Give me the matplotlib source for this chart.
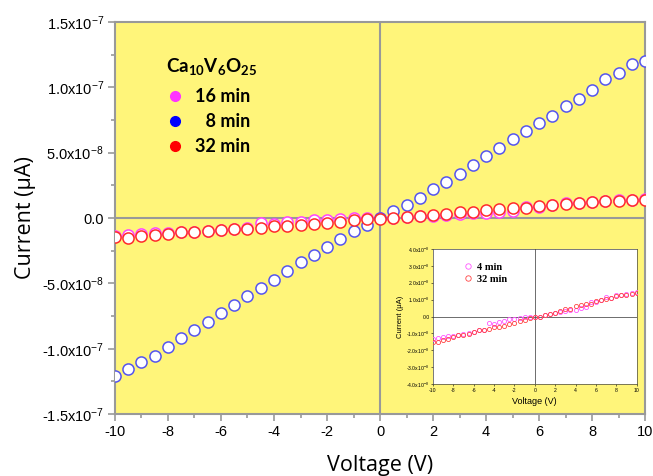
import numpy as np
import matplotlib
matplotlib.use("Agg")
import matplotlib.pyplot as plt
from matplotlib.lines import Line2D
from matplotlib.ticker import FuncFormatter, MultipleLocator

voltage = [-10.0, -9.5, -9.0, -8.5, -8.0, -7.5, -7.0, -6.5, -6.0, -5.5, -5.0,
           -4.5, -4.0, -3.5, -3.0, -2.5, -2.0, -1.5, -1.0, -0.5, 0.0,
           0.5, 1.0, 1.5, 2.0, 2.5, 3.0, 3.5, 4.0, 4.5, 5.0,
           5.5, 6.0, 6.5, 7.0, 7.5, 8.0, 8.5, 9.0, 9.5, 10.0]

# currents in units of 1e-8 A
i_8min = [-12.07, -11.56, -11.00, -10.59, -9.85, -9.21, -8.57, -7.93, -7.27, -6.63, -6.00,
          -5.36, -4.72, -4.03, -3.39, -2.81, -2.22, -1.63, -1.02, -0.51, 0.0,
          0.51, 0.99, 1.56, 2.19, 2.78, 3.39, 4.03, 4.74, 5.33, 6.07,
          6.63, 7.27, 7.83, 8.55, 9.08, 9.82, 10.61, 11.07, 11.76, 11.99]
i_16min = [-1.35, -1.28, -1.20, -1.18, -1.15, -1.10, -1.05, -0.99, -0.89, -0.82, -0.77,
           -0.38, -0.46, -0.33, -0.28, -0.15, -0.13, -0.08, -0.03, -0.03, 0.0,
           0.0, 0.08, 0.13, 0.18, 0.26, 0.33, 0.38, 0.41, 0.48, 0.54,
           0.84, 0.84, 0.99, 1.17, 1.12, 1.25, 1.28, 1.35, 1.40, 1.45]
i_32min = [-1.48, -1.53, -1.40, -1.30, -1.22, -1.10, -1.10, -1.02, -0.89, -0.82, -0.82,
           -0.74, -0.64, -0.64, -0.54, -0.46, -0.38, -0.28, -0.18, -0.10, -0.05,
           0.0, 0.10, 0.13, 0.23, 0.33, 0.46, 0.46, 0.61, 0.71, 0.77,
           0.77, 0.92, 0.99, 1.05, 1.12, 1.20, 1.28, 1.30, 1.35, 1.40]
# inset data (4 min and 32 min)
i_4min_inset = list(i_16min)
i_32min_inset = list(i_32min)

labels_main = ["16 min", "\u2007" + "8 min", "32 min"]
labels_inset = ["4 min", "32 min"]

V = np.array(voltage)
scale = 1e-8
c8 = np.array(i_8min) * scale
c16 = np.array(i_16min) * scale
c32 = np.array(i_32min) * scale
c4i = np.array(i_4min_inset) * scale
c32i = np.array(i_32min_inset) * scale

plt.rcParams['font.family'] = ['Liberation Sans', 'DejaVu Sans']
plt.rcParams['mathtext.fontset'] = 'custom'
plt.rcParams['mathtext.rm'] = 'Liberation Sans'
plt.rcParams['mathtext.it'] = 'Liberation Sans'

fig = plt.figure(figsize=(6.53, 4.76), dpi=100)
ax = fig.add_axes([0.176, 0.130, 0.812, 0.824])
yellow = '#fff57a'
ax.set_facecolor(yellow)
grey = '#999999'

ax.axhline(0, color=grey, lw=1.5, zorder=1)
ax.axvline(0, color=grey, lw=1.5, zorder=1)

ms = 8
ax.plot(V, c16, 'o', ms=ms, mfc='white', mec='#ff44ff', mew=1.1, zorder=3)
ax.plot(V, c8, 'o', ms=ms, mfc='white', mec='#5555ee', mew=1.1, zorder=3)
ax.plot(V, c32, 'o', ms=ms, mfc='white', mec='#ff2a2a', mew=1.1, zorder=4)

ax.set_xlim(-10, 10)
ax.set_ylim(-1.5e-7, 1.5e-7)
ax.xaxis.set_major_locator(MultipleLocator(2))
ax.xaxis.set_minor_locator(MultipleLocator(1))
ax.yaxis.set_major_locator(MultipleLocator(5e-8))
ax.yaxis.set_minor_locator(MultipleLocator(2.5e-8))


def sci_fmt(v, pos):
    if abs(v) < 1e-20:
        return "0.0"
    e = int(np.floor(np.log10(abs(v))))
    m = v / 10 ** e
    return r"%.1fx10$^{%d}$" % (m, e)


ax.yaxis.set_major_formatter(FuncFormatter(sci_fmt))
ax.xaxis.set_major_formatter(FuncFormatter(lambda v, p: "%d" % round(v)))

for s in ax.spines.values():
    s.set_color(grey)
    s.set_linewidth(1.5)
ax.tick_params(which='major', direction='out', length=5, width=1.2, color=grey,
               labelsize=10.5, pad=3)
ax.tick_params(which='minor', direction='out', length=3, width=1.2, color=grey)

lab_font = ['Open Sans', 'DejaVu Sans']
ax.set_xlabel("Voltage (V)", fontsize=15.5, family=lab_font, labelpad=11)
ax.set_ylabel("Current (\u03bcA)", fontsize=15.5, family=lab_font, labelpad=4)

handles = [Line2D([], [], ls='none', marker='o', ms=7, mfc='#ff33ff', mec='#ff33ff'),
           Line2D([], [], ls='none', marker='o', ms=7, mfc='#0000ff', mec='#0000ff'),
           Line2D([], [], ls='none', marker='o', ms=7, mfc='#ff0000', mec='#ff0000')]
leg = ax.legend(handles, labels_main, loc='upper left', bbox_to_anchor=(0.065, 0.955),
                frameon=False, handletextpad=0.6, labelspacing=0.45, handlelength=1.0,
                prop={'family': ['Lato', 'DejaVu Sans'], 'weight': 'bold', 'size': 13},
                title=r"Ca$_{\mathregular{10}}$V$_{\mathregular{6}}$O$_{\mathregular{25}}$",
                title_fontproperties={'family': ['Lato', 'DejaVu Sans'], 'weight': 'bold', 'size': 13.5})
leg._legend_box.align = 'left'
leg._legend_box.sep = 8

# inset
axin = fig.add_axes([0.663, 0.193, 0.312, 0.284])
axin.set_facecolor('white')
axin.axhline(0, color='#555555', lw=0.6, zorder=1)
axin.axvline(0, color='#555555', lw=0.6, zorder=1)
axin.plot(V, c4i, 'o', ms=3, mfc='none', mec='#ff55ff', mew=0.6, label=labels_inset[0], zorder=3)
axin.plot(V, c32i, 'o', ms=3, mfc='none', mec='#ff4444', mew=0.6, label=labels_inset[1], zorder=3)
axin.set_xlim(-10, 10)
axin.set_ylim(-4e-8, 4e-8)
axin.xaxis.set_major_locator(MultipleLocator(2))
axin.yaxis.set_major_locator(MultipleLocator(1e-8))
axin.yaxis.set_major_formatter(FuncFormatter(sci_fmt))
axin.xaxis.set_major_formatter(FuncFormatter(lambda v, p: "%d" % round(v)))
axin.tick_params(which='major', direction='out', length=1.5, width=0.4, labelsize=3.7, pad=1)
for s in axin.spines.values():
    s.set_linewidth(0.5)
    s.set_color('#444444')
axin.set_xlabel("Voltage (V)", fontsize=6.5, labelpad=3)
axin.set_ylabel("Current (\u03bcA)", fontsize=5.5, labelpad=2)
axin.legend(loc='upper left', bbox_to_anchor=(0.1, 0.97), frameon=False,
            prop={'family': ['Liberation Serif', 'DejaVu Serif'], 'weight': 'bold', 'size': 7.5},
            handletextpad=0.4, labelspacing=0.3, handlelength=1.0, markerscale=1.3)

fig.savefig("out.png", dpi=100)
